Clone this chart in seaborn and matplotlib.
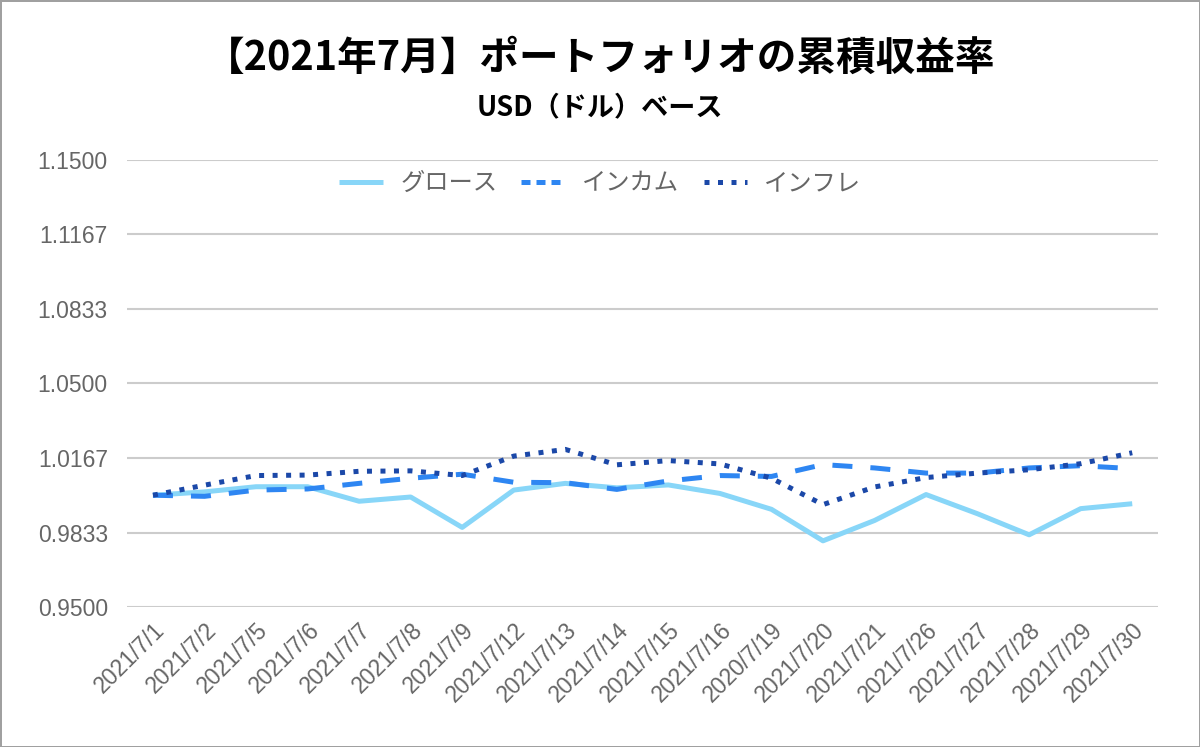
#!/usr/bin/env python3
"""
Portfolio cumulative return chart (July 2021, USD base).
"""

import pandas as pd
import matplotlib.pyplot as plt
import seaborn as sns

# Data
dates = ['2021/7/1', '2021/7/2', '2021/7/5', '2021/7/6', '2021/7/7', '2021/7/8',
         '2021/7/9', '2021/7/12', '2021/7/13', '2021/7/14', '2021/7/15', '2021/7/16',
         '2020/7/19', '2021/7/20', '2021/7/21', '2021/7/26', '2021/7/27', '2021/7/28',
         '2021/7/29', '2021/7/30']
growth = [1.0000, 1.0015, 1.0038, 1.0038, 0.9973, 0.9992, 0.9856, 1.0023, 1.0053, 1.0033,
          1.0046, 1.0008, 0.9937, 0.9796, 0.9887, 1.0003, 0.9917, 0.9823, 0.9940, 0.9962]
income = [1.0000, 0.9995, 1.0023, 1.0028, 1.0053, 1.0076, 1.0094, 1.0058, 1.0056, 1.0026,
          1.0064, 1.0088, 1.0084, 1.0137, 1.0122, 1.0099, 1.0099, 1.0122, 1.0132, 1.0119]
inflation = [1.0000, 1.0045, 1.0088, 1.0090, 1.0107, 1.0109, 1.0088, 1.0175, 1.0205, 1.0136,
             1.0155, 1.0140, 1.0076, 0.9958, 1.0037, 1.0079, 1.0099, 1.0114, 1.0141, 1.0190]
y_ticks = [0.95, 0.9833, 1.0167, 1.05, 1.0833, 1.1167, 1.15]

series_names = ['グロース', 'インカム', 'インフレ']
colors = ['#88d6f8', '#2e86f2', '#1b48a8']

sns.set_style("white")
plt.rcParams['font.family'] = ['Liberation Sans', 'Noto Sans CJK JP', 'DejaVu Sans']

df = pd.DataFrame({'date': dates, 'growth': growth, 'income': income, 'inflation': inflation})

fig = plt.figure(figsize=(12, 7.47), dpi=100, facecolor='white',
                 edgecolor='#a0a0a0', linewidth=2)
ax = fig.add_axes([0.106, 0.1874, 0.859, 0.5986])

styles = ['-', (0, (4, 3.6)), (0, (1, 1.7))]
for col, name, color, ls in zip(['growth', 'income', 'inflation'], series_names, colors, styles):
    sns.lineplot(data=df, x='date', y=col, ax=ax, sort=False, color=color,
                 linewidth=3.6, linestyle=ls, label=name,
                 solid_capstyle='butt', dash_capstyle='butt')

ax.set_ylim(0.95, 1.15)
ax.set_yticks(y_ticks)
ax.set_yticklabels([f"{v:.4f}" for v in y_ticks])
ax.set_xlim(-0.5, len(dates) - 0.5)
ax.set_xticks(range(len(dates)))
ax.set_xticklabels(dates, rotation=45, ha='right', rotation_mode='anchor')
ax.set_xlabel('')
ax.set_ylabel('')

ax.grid(axis='y', color='#cccccc', linewidth=1.5)
ax.grid(axis='x', visible=False)
ax.set_axisbelow(True)
for s in ax.spines.values():
    s.set_visible(False)
ax.tick_params(axis='both', length=0, labelsize=16.5, colors='#666666')
ax.tick_params(axis='y', pad=14)
ax.tick_params(axis='x', pad=8)

# legend sits at the figure's horizontal centre, not the axes'
leg = ax.legend(loc='center', bbox_to_anchor=(0.459, 0.946), ncol=3, frameon=False,
                fontsize=17.5, labelcolor='#666666', handlelength=1.8,
                columnspacing=1.0, handletextpad=0.7)
# shorter dashes in the legend key so two dashes show, as in the original
leg.get_lines()[1].set_linestyle((0, (1.8, 1.2)))

fig.text(0.5, 0.922, '【2021年7月】ポートフォリオの累積収益率', ha='center', va='center',
         fontsize=28.5, fontweight='bold', color='black', family=['Noto Sans CJK JP'])
fig.text(0.5, 0.856, 'USD（ドル）ベース', ha='center', va='center',
         fontsize=19.5, fontweight='bold', color='black', family=['Noto Sans CJK JP'])

fig.savefig('out.png', dpi=100)
